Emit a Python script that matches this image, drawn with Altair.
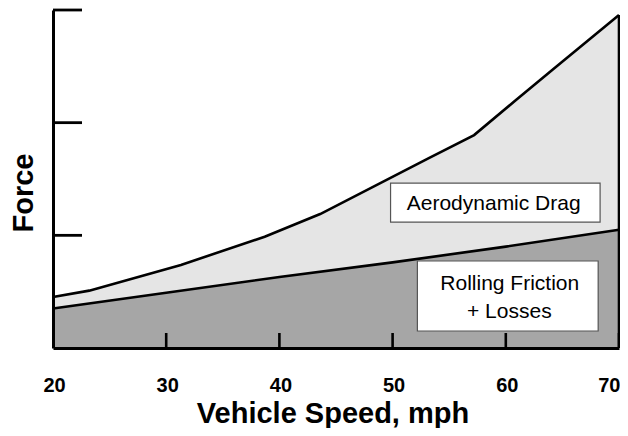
import altair as alt
import pandas as pd

# Total force (rolling + aerodynamic) curve
speed_total = [20.0, 23.2, 31.3, 38.7, 43.6, 53.2, 57.2, 60.9, 64.1, 70.0]
force_total = [0.453, 0.509, 0.737, 0.988, 1.189, 1.686, 1.890, 2.201, 2.467, 2.956]

# Rolling friction + losses curve
speed_roll = [20, 30, 40, 50, 60, 70]
force_roll = [0.35, 0.49, 0.63, 0.76, 0.90, 1.05]

# Axis ticks
x_ticks = [20, 30, 40, 50, 60, 70]
x_inner_ticks = [30, 40, 50, 60, 70]
y_ticks = [1, 2, 3]

# Annotation boxes (data coordinates)
box_x = [49.82, 52.19]
box_x2 = [68.33, 68.16]
box_y = [1.464, 0.772]
box_y2 = [1.118, 0.151]

ann_text = ["Aerodynamic Drag", "Rolling Friction", "+ Losses"]
ann_x = [58.93, 60.35, 60.31]
ann_y = [1.281, 0.570, 0.316]

FONT = "Liberation Sans, Arial, Helvetica, sans-serif"

df_total = pd.DataFrame({"speed": speed_total, "force": force_total})
df_roll = pd.DataFrame({"speed": speed_roll, "force": force_roll})
df_xt = pd.DataFrame({"speed": x_inner_ticks})
df_yt = pd.DataFrame({"force": y_ticks})
df_edge = pd.DataFrame({"speed": [speed_total[-1]], "y0": [0.0], "y1": [force_total[-1]]})
df_box = pd.DataFrame({"x": box_x, "x2": box_x2, "y": box_y, "y2": box_y2})
df_txt = pd.DataFrame({"x": ann_x, "y": ann_y, "t": ann_text})

xscale = alt.Scale(domain=[20, 70], nice=False, zero=False)
yscale = alt.Scale(domain=[0, 3], nice=False, zero=False)

xaxis = alt.Axis(
    values=x_ticks, ticks=False, grid=False, domainColor="black", domainWidth=3,
    labelFont=FONT, labelFontSize=20, labelFontWeight="bold", labelColor="black",
    labelPadding=27, labelOverlap=False, labelFlush=False, labelBound=False,
    labelAlign=alt.ExprRef("datum.value == 70 ? 'right' : 'center'"),
    labelOffset=alt.ExprRef("datum.value == 70 ? 1 : 1"),
    title="Vehicle Speed, mph", titleFont=FONT, titleFontSize=29, titleFontWeight="bold",
    titleColor="black", titleX=279.5, titleY=65.5, titleBaseline="middle", titleAlign="center",
    zindex=1,
)
yaxis = alt.Axis(
    labels=False, ticks=False, grid=False, domainColor="black", domainWidth=3,
    title="Force", titleFont=FONT, titleFontSize=29, titleFontWeight="bold",
    titleColor="black", titleX=-30, titleY=182.5, titleBaseline="middle", titleAlign="center",
    titleAngle=-90, zindex=1,
)

x = alt.X("speed:Q", scale=xscale, axis=xaxis)
y = alt.Y("force:Q", scale=yscale, axis=yaxis)

light_area = alt.Chart(df_total).mark_area(color="#e5e5e5", opacity=1).encode(x=x, y=y)
light_line = alt.Chart(df_total).mark_line(color="black", strokeWidth=2.6).encode(x=x, y=y)
dark_area = alt.Chart(df_roll).mark_area(color="#a6a6a6", opacity=1).encode(x=x, y=y)
dark_line = alt.Chart(df_roll).mark_line(color="black", strokeWidth=2.6).encode(x=x, y=y)

edge = alt.Chart(df_edge).mark_rule(color="black", strokeWidth=2.6).encode(
    x=alt.X("speed:Q", scale=xscale), y=alt.Y("y0:Q", scale=yscale), y2="y1:Q"
)

xt = alt.Chart(df_xt).mark_rule(color="black", strokeWidth=2.6).encode(
    x=alt.X("speed:Q", scale=xscale), y=alt.value(338), y2=alt.value(323)
)
yt = alt.Chart(df_yt).mark_rule(color="black", strokeWidth=2.8).encode(
    y=alt.Y("force:Q", scale=yscale), x=alt.value(0), x2=alt.value(29)
)

boxes = alt.Chart(df_box).mark_rect(fill="white", stroke="#555555", strokeWidth=1.2).encode(
    x=alt.X("x:Q", scale=xscale), x2="x2:Q", y=alt.Y("y:Q", scale=yscale), y2="y2:Q"
)
texts = alt.Chart(df_txt).mark_text(
    font=FONT, fontSize=21, color="black", baseline="middle", align="center"
).encode(x=alt.X("x:Q", scale=xscale), y=alt.Y("y:Q", scale=yscale), text="t:N")

chart = alt.layer(
    light_area, dark_area, light_line, dark_line, edge, xt, yt, boxes, texts
).properties(
    width=566, height=338,
    autosize="none",
    padding={"left": 45, "top": 2, "right": 1, "bottom": 80},
).configure_view(stroke=None).configure_axis(grid=False)

chart.save("out.html", embed_options={"renderer": "svg", "actions": False})
